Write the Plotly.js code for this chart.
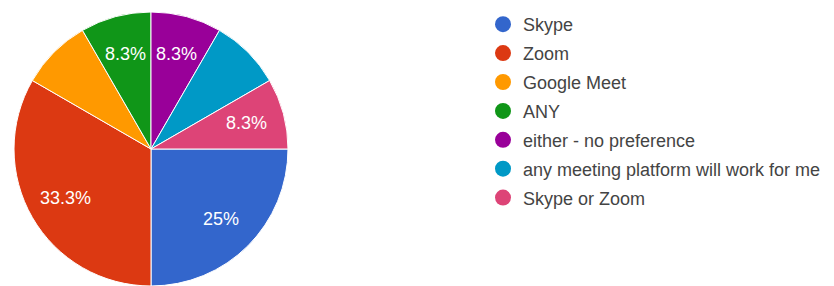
<!DOCTYPE html>
<html><head><meta charset="utf-8">
<script src="https://cdn.plot.ly/plotly-3.0.1.min.js"></script>
<style>html,body{margin:0;padding:0;background:#fff;}#chart{width:834px;height:286px;}</style>
</head><body><div id="chart"></div>
<script>
const categories = ["Skype","Zoom","Google Meet","ANY","either - no preference","any meeting platform will work for me","Skype or Zoom"];
const responses = [3,4,1,1,1,1,1];
const colors = ["#3366cc","#dc3912","#ff9900","#109618","#990099","#0099c6","#dd4477"];
const showLabel = [true,true,false,true,true,false,true];

const W = 834, H = 286;
const total = responses.reduce((a,b)=>a+b,0);
const labelText = responses.map((v,i)=>{
  const p = Math.round(v/total*1000)/10;
  return (p%1===0 ? p.toFixed(0) : p.toFixed(1)) + "%";
});

const font = "Liberation Sans, Arial, sans-serif";
const dom = {x:[13/W, 289/W], y:[0, 0.958]};
const rotation = 90;

// labels placed along each slice's mid-angle, derived from the data
const cxPx = (dom.x[0]+dom.x[1])/2*W;
const cyPx = (dom.y[0]+dom.y[1])/2*H;
const R = Math.min((dom.x[1]-dom.x[0])*W, (dom.y[1]-dom.y[0])*H)/2;
const annotations = [];
let cum = 0;
responses.forEach((v,i)=>{
  const mid = rotation + (cum + v/2)/total*360;
  cum += v;
  if(!showLabel[i]) return;
  const a = mid*Math.PI/180, r = 0.72*R;
  annotations.push({xref:"paper", yref:"paper",
    x:(cxPx + r*Math.sin(a))/W, y:(cyPx + r*Math.cos(a))/H,
    text:labelText[i], showarrow:false, xanchor:"center", yanchor:"middle",
    font:{color:"#ffffff", size:18, family:font}});
});

const traces = [{
  type:"pie", labels:categories, values:responses, sort:false,
  direction:"clockwise", rotation:rotation,
  marker:{colors:colors, line:{color:"#ffffff", width:1}},
  textinfo:"none",
  domain:dom, showlegend:false, hoverinfo:"label+percent"
}];
categories.forEach((c,i)=>{
  traces.push({type:"scatter", mode:"markers", x:[null], y:[null], name:c,
    legendgroup:"g"+i, marker:{color:colors[i], size:16, symbol:"circle"},
    showlegend:true, hoverinfo:"skip"});
});

const layout = {
  width:W, height:H, margin:{l:0,r:0,t:0,b:0},
  paper_bgcolor:"#fff", plot_bgcolor:"#fff",
  xaxis:{visible:false, domain:[0.9,1]}, yaxis:{visible:false},
  showlegend:true, annotations:annotations,
  legend:{x:483/W, y:1-6/H, xanchor:"left", yanchor:"top",
    font:{family:font, size:18, color:"#444"}, traceorder:"grouped",
    tracegroupgap:2.5, itemwidth:30, bgcolor:"rgba(0,0,0,0)"},
  font:{family:font}
};
Plotly.newPlot("chart", traces, layout, {displayModeBar:false, staticPlot:true});
</script></body></html>
